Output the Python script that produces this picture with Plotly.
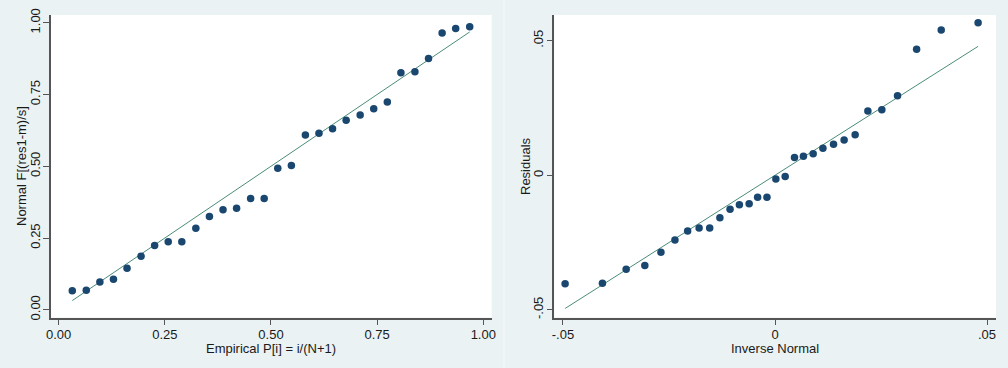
import plotly.graph_objects as go

# ---- data ----
pp_x = [0.032, 0.065, 0.097, 0.129, 0.161, 0.194, 0.226, 0.258, 0.290, 0.323,
        0.355, 0.387, 0.419, 0.452, 0.484, 0.516, 0.548, 0.581, 0.613, 0.645,
        0.677, 0.710, 0.742, 0.774, 0.806, 0.839, 0.871, 0.903, 0.935, 0.968]
pp_y = [0.066, 0.068, 0.097, 0.106, 0.145, 0.186, 0.224, 0.237, 0.237, 0.284,
        0.325, 0.348, 0.354, 0.388, 0.388, 0.493, 0.503, 0.609, 0.615, 0.631,
        0.660, 0.679, 0.700, 0.724, 0.826, 0.829, 0.875, 0.964, 0.980, 0.986]

qq_x = [-0.0495, -0.0407, -0.0351, -0.0307, -0.0269, -0.0236, -0.0206, -0.0179,
        -0.0154, -0.0130, -0.0106, -0.0084, -0.0061, -0.0041, -0.0019, 0.0002,
        0.0024, 0.0046, 0.0067, 0.0090, 0.0113, 0.0138, 0.0163, 0.0189, 0.0219,
        0.0252, 0.0289, 0.0334, 0.0392, 0.0479]
qq_y = [-0.0403, -0.0401, -0.0349, -0.0335, -0.0286, -0.0241, -0.0207, -0.0196,
        -0.0196, -0.0158, -0.0126, -0.0110, -0.0106, -0.0082, -0.0082, -0.0014,
        -0.0005, 0.0066, 0.0071, 0.0080, 0.0100, 0.0115, 0.0131, 0.0150, 0.0239,
        0.0243, 0.0295, 0.0468, 0.0540, 0.0567]

pp_ticks = [0, 0.25, 0.5, 0.75, 1.0]
pp_ticktext = ["0.00", "0.25", "0.50", "0.75", "1.00"]
qq_ticks = [-0.05, 0, 0.05]
qq_ticktext = ["-.05", "0", ".05"]

W, H = 1008, 368
BG = "#EAF2F3"
MARK = "#1A476F"
LINE = "#4A8C78"
AX = "#555555"
TXT = "#1a1a1a"
FONT = "Liberation Sans, Arial, sans-serif"

fig = go.Figure()

fig.add_trace(go.Scatter(x=[pp_x[0], pp_x[-1]], y=[pp_x[0], pp_x[-1]], mode="lines",
                         line=dict(color=LINE, width=1), xaxis="x", yaxis="y",
                         hoverinfo="skip"))
fig.add_trace(go.Scatter(x=pp_x, y=pp_y, mode="markers",
                         marker=dict(color=MARK, size=7.5), xaxis="x", yaxis="y"))
fig.add_trace(go.Scatter(x=[qq_x[0], qq_x[-1]], y=[qq_x[0], qq_x[-1]], mode="lines",
                         line=dict(color=LINE, width=1), xaxis="x2", yaxis="y2",
                         hoverinfo="skip"))
fig.add_trace(go.Scatter(x=qq_x, y=qq_y, mode="markers",
                         marker=dict(color=MARK, size=7.5), xaxis="x2", yaxis="y2"))


def px_x(p):
    return p / W


def px_y(p):
    return (H - p) / H


common = dict(showline=True, linecolor=AX, linewidth=1.5, ticks="outside",
              ticklen=6, tickcolor=AX, tickwidth=1, showgrid=False,
              zeroline=False, tickfont=dict(family=FONT, size=13, color=TXT),
              tickmode="array", fixedrange=True, automargin=False)

fig.update_layout(
    width=W, height=H,
    margin=dict(l=0, r=0, t=0, b=0, autoexpand=False),
    paper_bgcolor=BG, plot_bgcolor="white",
    showlegend=False,
    font=dict(family=FONT, size=13, color=TXT),
    xaxis=dict(domain=[px_x(50.7), px_x(491.7)], range=[-0.0188, 1.0198],
               anchor="y", tickvals=pp_ticks, ticktext=pp_ticktext,
               ticklabelstandoff=-2, **common),
    yaxis=dict(domain=[px_y(317.5), px_y(15)], range=[-0.027, 1.027],
               anchor="x", tickvals=pp_ticks, ticktext=pp_ticktext,
               tickangle=-90, ticklabelstandoff=-2, **common),
    xaxis2=dict(domain=[px_x(554.3), px_x(996)], range=[-0.05205, 0.05212],
                anchor="y2", tickvals=qq_ticks, ticktext=qq_ticktext,
                ticklabelstandoff=-2, **common),
    yaxis2=dict(domain=[px_y(317.5), px_y(15)], range=[-0.05286, 0.05954],
                anchor="x2", tickvals=qq_ticks, ticktext=qq_ticktext,
                tickangle=-90, ticklabelstandoff=-2, **common),
    annotations=[
        dict(text="Empirical P[i] = i/(N+1)", x=px_x(271), y=px_y(348),
             xref="paper", yref="paper", showarrow=False,
             xanchor="center", yanchor="middle", font=dict(size=13)),
        dict(text="Inverse Normal", x=px_x(775), y=px_y(348),
             xref="paper", yref="paper", showarrow=False,
             xanchor="center", yanchor="middle", font=dict(size=13)),
        dict(text="Normal F[(res1-m)/s]", x=px_x(21), y=px_y(166),
             xref="paper", yref="paper", showarrow=False, textangle=-90,
             xanchor="center", yanchor="middle", font=dict(size=13)),
        dict(text="Residuals", x=px_x(525), y=px_y(166),
             xref="paper", yref="paper", showarrow=False, textangle=-90,
             xanchor="center", yanchor="middle", font=dict(size=13)),
    ],
    shapes=[
        dict(type="line", xref="paper", yref="paper", x0=px_x(504), x1=px_x(504),
             y0=0, y1=1, line=dict(color="#F6FAFA", width=1)),
    ],
)

fig.write_html("out.html", config={"displayModeBar": False},
               post_script="document.body.style.margin='0';"
                           "document.body.style.overflow='hidden';")
